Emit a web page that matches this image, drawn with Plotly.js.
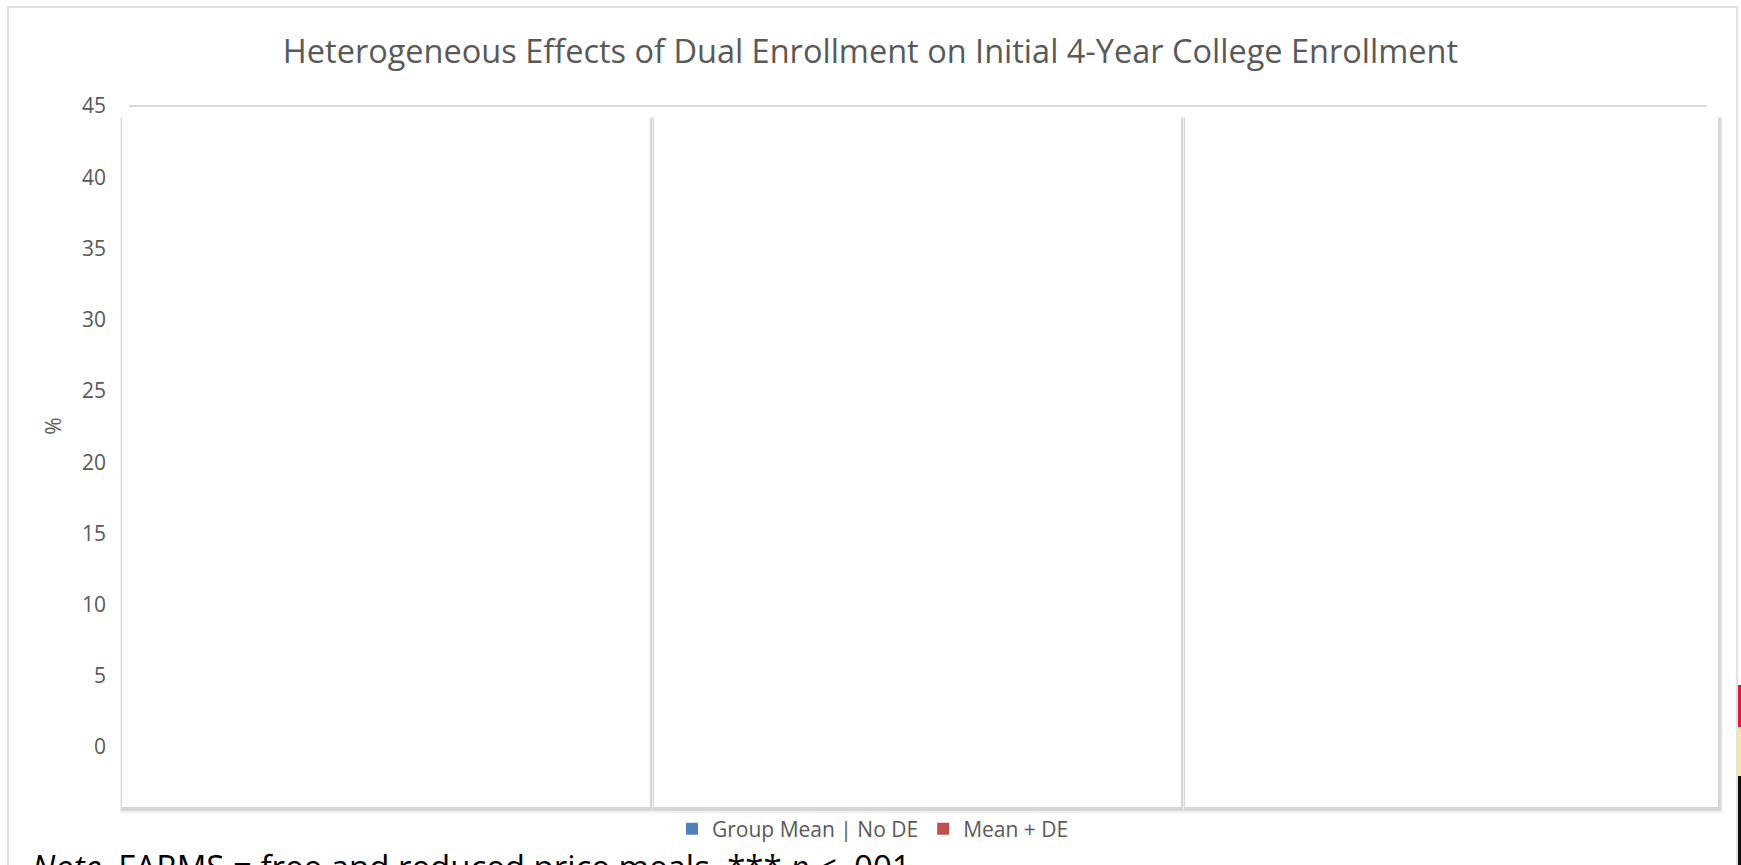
<!DOCTYPE html>
<html>
<head>
<meta charset="utf-8">
<script src="https://cdn.plot.ly/plotly-3.0.1.min.js"></script>
<style>
  html, body { margin: 0; padding: 0; background: #ffffff; }
  #chart { width: 1741px; height: 865px; }
</style>
</head>
<body>
<div id="chart"></div>
<script>
// Chart content
const chartTitle = 'Heterogeneous Effects of Dual Enrollment on Initial 4-Year College Enrollment';
const seriesNames = ['Group Mean | No DE', 'Mean + DE'];
const seriesColors = ['#4f81bd', '#c0504d'];
// No bars are shown for either series; both only appear in the legend.
const categories = [null];
const groupMeanNoDE = [null];
const meanPlusDE = [null];
const yTicks = [0, 5, 10, 15, 20, 25, 30, 35, 40, 45];
const yAxisTitle = '%';
const noteText = '<i>Note</i>. FARMS = free and reduced price meals. *** <i>p</i> &lt; .001';

// Page geometry (pixels) and helpers converting pixels to paper coordinates
const W = 1741, H = 865;
const M = { l: 129, r: 34, t: 105, b: 118 };
const plotW = W - M.l - M.r;
const plotH = H - M.t - M.b;
const px = v => (v - M.l) / plotW;
const py = v => (H - M.b - v) / plotH;

const traces = [
  { type: 'bar', name: seriesNames[0], x: categories, y: groupMeanNoDE,
    marker: { color: seriesColors[0] }, hoverinfo: 'skip' },
  { type: 'bar', name: seriesNames[1], x: categories, y: meanPlusDE,
    marker: { color: seriesColors[1] }, hoverinfo: 'skip' }
];

// White cover panels with a soft drop shadow
const panels = [
  [122, 650], [654, 1181], [1185, 1718]
];
const panelTop = 117, panelBottom = 807;
const shapes = [];
panels.forEach(([a, b]) => {
  shapes.push({ type: 'rect', xref: 'paper', yref: 'paper', layer: 'above',
    x0: px(a - 2), x1: px(b + 5), y0: py(panelTop), y1: py(panelBottom + 6),
    fillcolor: '#f1f1f1', line: { width: 0 } });
  shapes.push({ type: 'rect', xref: 'paper', yref: 'paper', layer: 'above',
    x0: px(a - 1), x1: px(b + 3), y0: py(panelTop + 1), y1: py(panelBottom + 4),
    fillcolor: '#d5d5d5', line: { width: 0 } });
  shapes.push({ type: 'rect', xref: 'paper', yref: 'paper', layer: 'above',
    x0: px(a), x1: px(b), y0: py(panelTop), y1: py(panelBottom),
    fillcolor: '#ffffff', line: { width: 0 } });
});

// Outer chart border
shapes.push({ type: 'rect', xref: 'paper', yref: 'paper', layer: 'above',
  x0: px(8), x1: px(1737), y0: py(7), y1: py(900),
  fillcolor: 'rgba(0,0,0,0)', line: { color: '#d9d9d9', width: 1.5 } });

// Coloured strip at the right edge
[[685, 727, '#e3173e'], [727, 776, '#fbe8a0'], [776, 865, '#111111']].forEach(([t, b, c]) => {
  shapes.push({ type: 'rect', xref: 'paper', yref: 'paper', layer: 'above',
    x0: px(1738), x1: px(1742), y0: py(t), y1: py(b),
    fillcolor: c, line: { width: 0 } });
});

const layout = {
  width: W, height: H,
  margin: { l: M.l, r: M.r, t: M.t, b: M.b, pad: 0 },
  paper_bgcolor: '#ffffff',
  plot_bgcolor: '#ffffff',
  font: { family: 'Open Sans, sans-serif', color: '#595959' },
  title: {
    text: chartTitle,
    font: { family: 'Open Sans, sans-serif', size: 32.5, color: '#595959' },
    x: 0.5, xref: 'container', xanchor: 'center',
    y: 1 - 52 / H, yref: 'container', yanchor: 'middle'
  },
  showlegend: true,
  legend: {
    orientation: 'h',
    x: px(873), xanchor: 'center',
    y: py(829), yanchor: 'middle',
    font: { family: 'Open Sans, sans-serif', size: 21, color: '#595959' },
    bgcolor: 'rgba(0,0,0,0)',
    itemclick: false, itemdoubleclick: false
  },
  xaxis: { visible: false, fixedrange: true },
  yaxis: {
    range: [0, 45.08],
    tickmode: 'array', tickvals: yTicks, ticktext: yTicks.map(String),
    showgrid: true, gridcolor: '#d9d9d9', gridwidth: 1.3,
    zeroline: false, showline: false, ticks: '',
    ticklabelstandoff: 22,
    tickfont: { family: 'Open Sans, sans-serif', size: 21, color: '#595959' },
    title: { text: yAxisTitle, standoff: 14,
      font: { family: 'Open Sans, sans-serif', size: 21, color: '#595959' } },
    fixedrange: true
  },
  shapes: shapes,
  annotations: [{
    text: noteText, showarrow: false,
    xref: 'paper', yref: 'paper',
    x: px(30), xanchor: 'left',
    y: py(842), yanchor: 'top',
    font: { family: 'Open Sans, sans-serif', size: 33, color: '#000000' }
  }]
};

Plotly.newPlot('chart', traces, layout, { displayModeBar: false, staticPlot: true });
</script>
</body>
</html>
